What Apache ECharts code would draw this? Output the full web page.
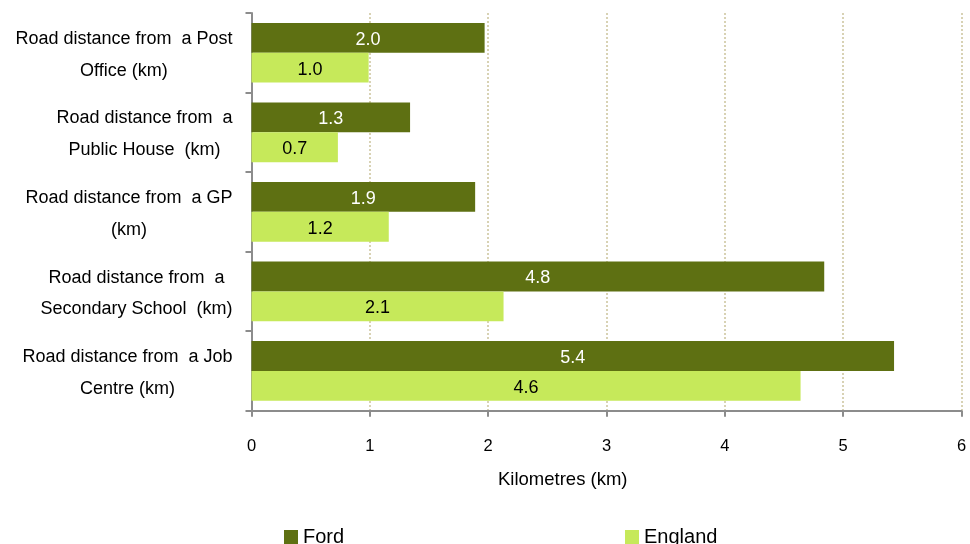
<!DOCTYPE html>
<html><head><meta charset="utf-8">
<script src="https://cdn.jsdelivr.net/npm/echarts@6/dist/echarts.min.js"></script>
<style>html,body{margin:0;padding:0;background:#fff}#c{width:970px;height:544px}</style>
</head><body><div id="c"></div>
<script>
const categories = [
  ["Road distance from  a Post", "Office (km)"],
  ["Road distance from  a", "Public House  (km)"],
  ["Road distance from  a GP", "(km)"],
  ["Road distance from  a", "Secondary School  (km)"],
  ["Road distance from  a Job", "Centre (km)"]
];
const fordValues = [1.97, 1.34, 1.89, 4.84, 5.43];
const englandValues = [0.99, 0.73, 1.16, 2.13, 4.64];
const xTicks = [0, 1, 2, 3, 4, 5, 6];
const seriesNames = ["Ford", "England"];

const catKeys = categories.map(c => c.join("\n"));
const chart = echarts.init(document.getElementById('c'));
const FONT = 'Liberation Sans, Arial, sans-serif';
chart.setOption({
  animation: false,
  textStyle: {fontFamily: FONT},
  grid: {left: 251.5, right: 8.5, top: 13, bottom: 133.3},
  title: {text: 'Kilometres (km)', left: 498, top: 470, padding: 0,
    textStyle: {fontSize: 18.5, fontWeight: 'normal', color: '#000', fontFamily: FONT}},
  legend: [
    {data: [seriesNames[0]], left: 284, top: 527, padding: 0, itemWidth: 14, itemHeight: 14, icon: 'rect', itemGap: 5,
     textStyle: {fontSize: 20, color: '#000', fontFamily: FONT}},
    {data: [seriesNames[1]], left: 625, top: 527, padding: 0, itemWidth: 14, itemHeight: 14, icon: 'rect', itemGap: 5,
     textStyle: {fontSize: 20, color: '#000', fontFamily: FONT}}
  ],
  xAxis: {
    type: 'value', min: xTicks[0], max: xTicks[xTicks.length-1], interval: 1,
    axisLine: {show: true, lineStyle: {color: '#8c8c8c', width: 2}},
    axisTick: {show: true, length: 6, lineStyle: {color: '#8c8c8c', width: 2}},
    axisLabel: {fontSize: 16.5, color: '#000', margin: 27, fontFamily: FONT},
    splitLine: {show: true, lineStyle: {color: '#d8d2b4', type: [2, 2], width: 2}}
  },
  yAxis: {
    type: 'category', data: catKeys, inverse: true,
    axisLine: {show: true, lineStyle: {color: '#8c8c8c', width: 2}},
    axisTick: {show: true, length: 6, lineStyle: {color: '#8c8c8c', width: 2}},
    axisLabel: {
      margin: 19, align: 'right', color: '#000', fontSize: 18, lineHeight: 31.7,
      padding: [4, 0, 0, 0],
      formatter: v => v.split("\n").map(s => '{c|' + s + '}').join("\n"),
      rich: {c: {align: 'center', fontSize: 18, lineHeight: 31.7, color: '#000', fontFamily: FONT}}
    }
  },
  series: [
    {name: seriesNames[0], type: 'bar', data: fordValues, barGap: '0%', barCategoryGap: '25%',
     itemStyle: {color: '#5e7012'},
     label: {show: true, position: 'inside', offset: [0, 2], color: '#fff', fontSize: 18, fontFamily: FONT,
       formatter: p => p.value.toFixed(1)}},
    {name: seriesNames[1], type: 'bar', data: englandValues, barGap: '0%', barCategoryGap: '25%',
     itemStyle: {color: '#c6e95a'},
     label: {show: true, position: 'inside', offset: [0, 2], color: '#000', fontSize: 18, fontFamily: FONT,
       formatter: p => p.value.toFixed(1)}}
  ]
});
</script></body></html>
